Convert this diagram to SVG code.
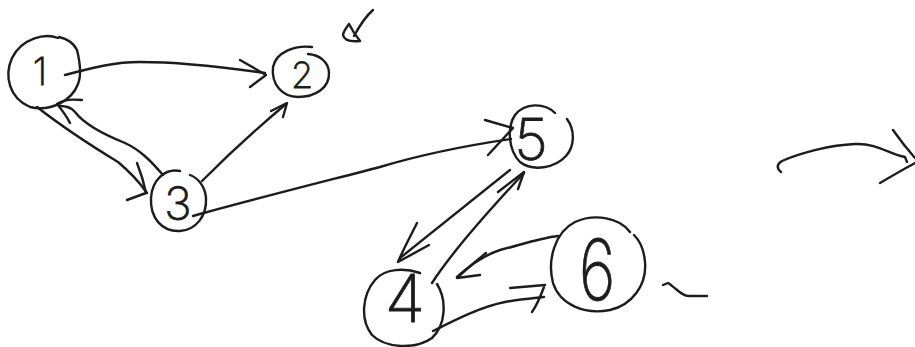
<svg xmlns="http://www.w3.org/2000/svg" width="915" height="347" viewBox="0 0 915 347">
<style>
.s{fill:none;stroke:#1c1c1c;stroke-width:2.4;stroke-linecap:round;stroke-linejoin:round}
.t{font-family:"Inter","Lato","Roboto","Liberation Sans",sans-serif;font-weight:200;fill:#1c1c1c;stroke:#1c1c1c;stroke-width:0.8;text-anchor:middle}
</style>
<rect width="915" height="347" fill="#ffffff"/>
<g id="connectors">
<g id="e1-2"><path class="s" d="M65,75 C85,70 110,62 140,62 C180,62 230,68 265,73"/><path class="s" d="M240,60 L266,75 L250,87"/></g>
<g id="e1-3"><path class="s" d="M37,107 C60,125 95,148 118,162 C130,172 140,183 147,193"/><path class="s" d="M137,163 C141,173 144,183 146,193 L127,200"/></g>
<g id="e3-1"><path class="s" d="M163,175 C150,160 140,150 125,143 C105,135 85,125 75,112 C71,107 66,106 60,106"/><path class="s" d="M82,100 C72,99 62,100 57,104 C62,110 67,117 70,123"/></g>
<g id="e3-2"><path class="s" d="M202,181 C225,158 255,130 286,104"/><path class="s" d="M271,111 L287,103 L283,117"/></g>
<g id="e3-5"><path class="s" d="M193,216 C250,200 330,180 380,167 C430,152 470,145 511,139"/><path class="s" d="M485,120 L513,128 L488,155"/></g>
<g id="e5-4"><path class="s" d="M510,170 L400,258"/><path class="s" d="M417,223 C410,237 403,250 398,262 L429,245"/></g>
<g id="e4-5"><path class="s" d="M432,283 C450,255 480,220 524,173"/><path class="s" d="M498,192 L524,172 L518,189"/></g>
<g id="e6-4"><path class="s" d="M558,236 C540,238 520,245 500,250 C485,255 470,265 457,277"/><path class="s" d="M486,253 C475,262 465,270 457,278 L480,275"/></g>
<g id="e4-6"><path class="s" d="M433,331 C455,320 480,307 505,302 C520,299 535,298 544,297"/><path class="s" d="M510,288 L545,285 M544,287 C541,295 537,305 532,312"/></g>
<g id="e-right"><path class="s" d="M781,172 C776,168 777,164 782,161 C800,153 830,145 855,144 C878,143 890,155 905,157 L907,162"/><path class="s" d="M893,130 C900,140 908,150 915,158 M880,183 C892,176 904,169 915,163"/></g>
</g>
<g id="n1"><path class="s" d="M58,38 C45,33 22,38 12,58 C4,76 9,98 30,107 C52,112 72,100 78,84 C82,74 80,62 77,50 M59,37 C68,39 74,44 77,50"/><text class="t" x="40" y="85" font-size="38">1</text></g>
<g id="n2"><path class="s" d="M312,47 C295,45 276,52 273,67 C271,85 283,97 298,97 C315,97 330,88 329,72 C328,62 320,55 308,54"/><text class="t" x="302" y="88" font-size="36">2</text></g>
<g id="n3"><path class="s" d="M180,171 C165,168 152,180 151,198 C150,218 162,232 180,231 C196,230 207,216 206,198 C205,186 198,178 190,175"/><text class="t" x="178" y="220" font-size="46">3</text></g>
<g id="n5"><path class="s" d="M555,113 C545,103 525,102 515,115 C507,127 508,150 520,162 C533,172 555,168 566,156 C575,146 575,130 567,119"/><text class="t" x="531" y="160" font-size="58">5</text></g>
<g id="n4"><path class="s" d="M420,273 C405,268 385,268 375,280 C362,295 360,320 372,335 C385,348 415,350 432,338 C446,325 447,300 437,284"/><text class="t" x="405" y="322" font-size="66">4</text></g>
<g id="n6"><path class="s" d="M630,232 C620,218 595,213 575,222 C555,232 547,260 553,283 C560,305 585,315 610,310 C632,305 647,285 645,262 C644,250 640,241 634,235"/><text class="t" transform="translate(597,300) scale(0.75,1)" x="0" y="0" font-size="84">6</text></g>
<g id="marks"><path class="s" d="M373,10 C366,16 360,25 354,36 M349,24 C346,28 343,32 343,35 C344,40 350,42 360,41 C356,36 352,30 349,24"/><path class="s" d="M663,285 L668,283 C675,287 682,297 690,296 L707,296"/></g>
</svg>
